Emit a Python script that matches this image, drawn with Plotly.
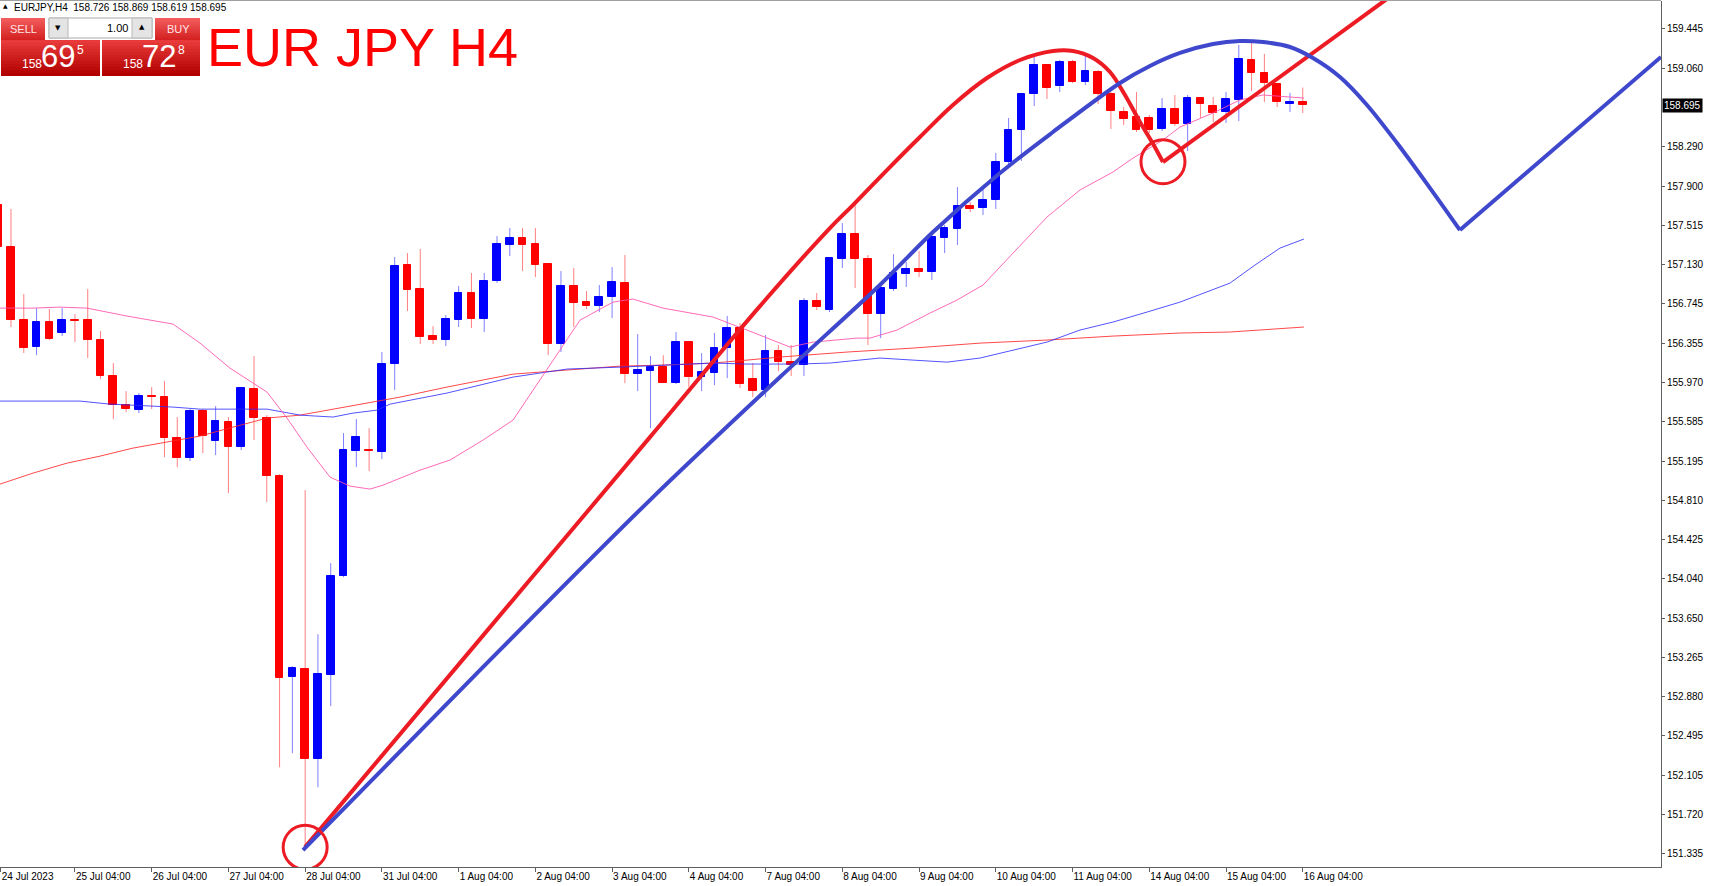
import plotly.graph_objects as go

# ------------------------------------------------------------------ data
first_bar = -1  # index of first (partly visible) H4 bar, 24 Jul 04:00
bar_open = [157.714, 157.301, 156.583, 156.318, 156.564, 156.456, 156.583, 156.583, 156.387, 156.033,
            155.748, 155.698, 155.836, 155.826, 155.423, 155.226, 155.689, 155.394, 155.580, 155.335,
            155.905, 155.620, 155.049, 153.073, 153.151, 152.267, 153.092, 154.066, 155.295, 155.305,
            155.285, 156.151, 157.124, 156.888, 156.426, 156.387, 156.583, 156.849, 156.593, 156.967,
            157.321, 157.390, 157.331, 157.134, 156.347, 156.918, 156.760, 156.721, 156.810, 156.947,
            156.052, 156.082, 156.121, 155.964, 156.367, 156.023, 156.062, 156.308, 156.505, 156.003,
            155.895, 156.279, 156.170, 156.141, 156.770, 156.682, 157.183, 157.429, 157.183, 156.642,
            156.888, 157.036, 157.085, 157.055, 157.390, 157.478, 157.704, 157.685, 157.763, 158.137,
            158.452, 158.806, 159.091, 158.884, 159.120, 158.924, 159.022, 158.806, 158.629, 158.580,
            158.570, 158.462, 158.658, 158.511, 158.766, 158.688, 158.629, 158.747, 159.140, 159.012,
            158.904, 158.707, 158.726]
bar_high = [157.734, 157.675, 156.839, 156.701, 156.692, 156.701, 156.642, 156.888, 156.475, 156.161,
            155.885, 155.866, 155.925, 155.984, 155.630, 155.708, 155.708, 155.738, 155.630, 155.925,
            156.229, 155.649, 155.069, 153.181, 154.912, 153.496, 154.194, 155.472, 155.610, 155.521,
            156.269, 157.203, 157.242, 157.282, 156.524, 156.633, 156.918, 157.046, 157.046, 157.409,
            157.488, 157.488, 157.488, 157.144, 157.065, 157.095, 156.869, 156.928, 157.105, 157.223,
            156.446, 156.229, 156.239, 156.465, 156.377, 156.259, 156.456, 156.623, 156.554, 156.161,
            156.436, 156.338, 156.338, 156.800, 156.849, 157.203, 157.537, 157.714, 157.223, 156.947,
            157.232, 157.154, 157.262, 157.439, 157.518, 157.891, 157.744, 157.881, 158.226, 158.570,
            158.816, 159.170, 159.101, 159.140, 159.140, 159.199, 159.042, 158.825, 158.678, 158.825,
            158.599, 158.766, 158.796, 158.796, 158.776, 158.776, 158.825, 159.288, 159.307, 159.199,
            158.914, 158.816, 158.869]
bar_low = [157.272, 156.515, 156.259, 156.239, 156.387, 156.426, 156.367, 156.210, 156.003, 155.610,
           155.679, 155.669, 155.708, 155.236, 155.138, 155.197, 155.276, 155.256, 154.882, 155.305,
           155.403, 154.794, 152.188, 152.326, 151.372, 151.991, 152.788, 154.056, 155.138, 155.099,
           155.217, 155.895, 156.672, 156.347, 156.347, 156.328, 156.515, 156.505, 156.465, 156.947,
           157.213, 157.065, 157.006, 156.239, 156.269, 156.515, 156.692, 156.662, 156.603, 155.964,
           155.885, 155.521, 155.964, 155.954, 155.925, 155.885, 155.944, 156.013, 155.915, 155.826,
           155.826, 156.082, 156.033, 156.033, 156.682, 156.662, 157.095, 156.898, 156.338, 156.406,
           156.869, 156.908, 157.006, 156.977, 157.242, 157.321, 157.645, 157.616, 157.675, 158.117,
           158.147, 158.688, 158.757, 158.825, 158.914, 158.894, 158.707, 158.462, 158.501, 158.432,
           158.422, 158.442, 158.491, 158.245, 158.570, 158.530, 158.521, 158.540, 158.835, 158.727,
           158.678, 158.629, 158.619]
bar_close = [157.301, 156.583, 156.308, 156.564, 156.397, 156.583, 156.573, 156.387, 156.033, 155.748,
             155.708, 155.836, 155.826, 155.423, 155.226, 155.689, 155.443, 155.590, 155.335, 155.915,
             155.620, 155.049, 153.063, 153.161, 152.267, 153.102, 154.066, 155.305, 155.433, 155.295,
             156.151, 157.114, 156.878, 156.416, 156.387, 156.593, 156.849, 156.593, 156.967, 157.331,
             157.390, 157.321, 157.124, 156.347, 156.918, 156.751, 156.721, 156.810, 156.957, 156.052,
             156.092, 156.121, 155.964, 156.367, 156.023, 156.072, 156.308, 156.505, 155.954, 155.885,
             156.279, 156.170, 156.141, 156.770, 156.711, 157.193, 157.429, 157.183, 156.642, 156.898,
             157.046, 157.085, 157.055, 157.400, 157.488, 157.704, 157.675, 157.763, 158.137, 158.452,
             158.806, 159.091, 158.865, 159.120, 158.924, 159.032, 158.806, 158.639, 158.560, 158.452,
             158.452, 158.658, 158.511, 158.766, 158.707, 158.619, 158.757, 159.150, 159.012, 158.914,
             158.727, 158.727, 158.695]

# time axis labels (bar index of each "04:00" bar)
time_tick_bars = [-0.8, 5, 11, 17, 23, 29, 35, 41, 47, 53, 59, 65, 71, 77, 83, 89, 95, 101]
time_tick_text = ["24 Jul 2023", "25 Jul 04:00", "26 Jul 04:00", "27 Jul 04:00", "28 Jul 04:00",
                  "31 Jul 04:00", "1 Aug 04:00", "2 Aug 04:00", "3 Aug 04:00", "4 Aug 04:00",
                  "7 Aug 04:00", "8 Aug 04:00", "9 Aug 04:00", "10 Aug 04:00", "11 Aug 04:00",
                  "14 Aug 04:00", "15 Aug 04:00", "16 Aug 04:00"]
price_ticks = [159.445, 159.060, 158.290, 157.900, 157.515, 157.130, 156.745, 156.355, 155.970,
               155.585, 155.195, 154.810, 154.425, 154.040, 153.650, 153.265, 152.880, 152.495,
               152.105, 151.720, 151.335]

# moving averages (read at selected bars)
ma_pink_x = [-0.86, 1.72, 3.83, 5.94, 9.07, 12.67, 14.78, 17.12, 20.02, 21.58, 23.14, 24.94, 26.51,
             28.07, 29.09, 31.98, 34.32, 36.90, 39.25, 42.38, 44.49, 47.07, 48.63, 50.98, 54.89, 57.55,
             60.91, 62.71, 66.15, 67.16, 69.27, 71.85, 73.96, 76.00, 78.34, 81.00, 83.58, 86.16, 87.73,
             90.07, 91.40, 93.98, 96.09, 97.89, 100.0, 101.09]
ma_pink_y = [156.701, 156.701, 156.711, 156.701, 156.623, 156.544, 156.357, 156.111, 155.875, 155.620,
             155.335, 155.040, 154.951, 154.922, 154.961, 155.108, 155.207, 155.403, 155.600, 156.190,
             156.583, 156.760, 156.790, 156.701, 156.613, 156.485, 156.318, 156.367, 156.406, 156.406,
             156.485, 156.652, 156.780, 156.928, 157.242, 157.596, 157.862, 158.039, 158.176, 158.353,
             158.481, 158.619, 158.747, 158.796, 158.776, 158.766]
ma_blue_x = [-0.86, 5.39, 7.74, 12.67, 14.78, 20.02, 22.60, 25.18, 26.74, 28.62, 29.63, 31.98, 34.09,
             39.25, 43.47, 47.62, 50.98, 54.89, 57.55, 61.46, 64.03, 67.94, 70.52, 73.18, 75.76, 78.34,
             81.00, 83.58, 86.16, 88.82, 91.40, 95.31, 97.26, 99.22, 101.09]
ma_blue_y = [155.787, 155.787, 155.757, 155.728, 155.708, 155.708, 155.649, 155.630, 155.669, 155.698,
             155.757, 155.816, 155.866, 156.023, 156.102, 156.121, 156.141, 156.161, 156.151, 156.151,
             156.161, 156.210, 156.190, 156.170, 156.210, 156.289, 156.367, 156.485, 156.564, 156.662,
             156.760, 156.947, 157.124, 157.291, 157.380]
ma_red_x = [-0.86, 1.72, 4.38, 6.96, 9.54, 12.20, 14.78, 17.36, 20.02, 22.60, 25.18, 27.83, 30.41,
            34.09, 39.25, 43.47, 47.62, 50.98, 54.89, 57.55, 60.13, 65.36, 70.52, 75.76, 81.00, 86.16,
            91.40, 95.31, 101.09]
ma_red_y = [154.971, 155.079, 155.177, 155.246, 155.325, 155.384, 155.443, 155.531, 155.620, 155.649,
            155.708, 155.767, 155.826, 155.925, 156.052, 156.092, 156.131, 156.141, 156.161, 156.190,
            156.220, 156.269, 156.308, 156.357, 156.387, 156.426, 156.456, 156.466, 156.515]

# hand-drawn analysis objects (anchor points in bar index / price)
red_path_x = [22.99, 36.67, 49.96, 58.56, 64.03, 65.83, 68.49, 71.07, 73.65, 76.31, 78.89, 81.47,
              83.03, 84.60, 85.93, 87.10, 88.27, 89.21, 90.07]
red_path_y = [151.402, 153.447, 155.433, 156.721, 157.488, 157.714, 158.058, 158.383, 158.698, 158.963,
              159.140, 159.229, 159.229, 159.160, 159.022, 158.796, 158.530, 158.334, 158.137]
red_ray_x = [90.07, 110.16]
red_ray_y = [158.137, 159.976]
blue_arc_x = [22.83, 36.67, 49.96, 60.13, 67.94, 72.09, 77.33, 81.47, 86.71, 89.05, 91.40, 93.98,
              96.09, 97.89, 100.0, 101.80, 103.91, 106.02, 108.37, 110.95, 113.29]
blue_arc_y = [151.372, 153.142, 154.814, 156.023, 156.928, 157.449, 158.029, 158.432, 158.914, 159.081,
              159.209, 159.297, 159.327, 159.317, 159.268, 159.160, 158.973, 158.698, 158.324, 157.881,
              157.468]
blue_ray_x = [113.29, 129.01]
blue_ray_y = [157.468, 159.170]
circle_x = [23.0, 90.07]
circle_y = [151.40, 158.14]

symbol = "EURJPY,H4"
ohlc_last = [158.726, 158.869, 158.619, 158.695]
bid_price = "158.695"
ask_price = "158.728"
lot = "1.00"
title_text = "EUR JPY H4"

# ------------------------------------------------------------------ styling
W, H = 1709, 886
PL, PR, PT, PB = 0, 48, 1, 19
PW, PH = W - PL - PR, H - PT - PB
FONT = "Tahoma, Liberation Sans, Arial, sans-serif"
C_RED_DRAW = "rgb(237,28,36)"
C_BLUE_DRAW = "rgb(63,72,204)"


def px(x):
    return (x - PL) / PW


def py(y):
    return 1 - (y - PT) / PH


bars = list(range(first_bar, first_bar + len(bar_open)))

fig = go.Figure()

# wicks
for bull, col in ((True, "rgba(0,0,255,0.5)"), (False, "rgba(255,0,0,0.5)")):
    wx, wy = [], []
    for i, o, h, l, c in zip(bars, bar_open, bar_high, bar_low, bar_close):
        if (c >= o) == bull:
            wx += [i, i, None]
            wy += [l, h, None]
    fig.add_trace(go.Scatter(x=wx, y=wy, mode="lines", line=dict(color=col, width=1),
                             hoverinfo="skip"))

# bodies
for bull, col in ((True, "#0000ff"), (False, "#ff0000")):
    bx, bb, bh = [], [], []
    for i, o, c in zip(bars, bar_open, bar_close):
        if (c >= o) == bull:
            bx.append(i)
            bb.append(min(o, c))
            bh.append(abs(c - o))
    fig.add_trace(go.Bar(x=bx, y=bh, base=bb, width=0.6, marker=dict(color=col,
                         line=dict(color=col, width=1)), hoverinfo="skip"))

# moving averages
fig.add_trace(go.Scatter(x=ma_red_x, y=ma_red_y, mode="lines",
                         line=dict(color="rgba(255,40,40,0.85)", width=1), hoverinfo="skip"))
fig.add_trace(go.Scatter(x=ma_blue_x, y=ma_blue_y, mode="lines",
                         line=dict(color="rgba(40,40,255,0.8)", width=1), hoverinfo="skip"))
fig.add_trace(go.Scatter(x=ma_pink_x, y=ma_pink_y, mode="lines",
                         line=dict(color="rgba(255,80,170,0.85)", width=1), hoverinfo="skip"))

# drawn objects
fig.add_trace(go.Scatter(x=red_path_x, y=red_path_y, mode="lines",
                         line=dict(color=C_RED_DRAW, width=4, shape="spline", smoothing=1.0),
                         hoverinfo="skip"))
fig.add_trace(go.Scatter(x=red_ray_x, y=red_ray_y, mode="lines",
                         line=dict(color=C_RED_DRAW, width=4), hoverinfo="skip"))
fig.add_trace(go.Scatter(x=blue_arc_x, y=blue_arc_y, mode="lines",
                         line=dict(color=C_BLUE_DRAW, width=4, shape="spline", smoothing=0.9),
                         hoverinfo="skip"))
fig.add_trace(go.Scatter(x=blue_ray_x, y=blue_ray_y, mode="lines",
                         line=dict(color=C_BLUE_DRAW, width=4), hoverinfo="skip"))

shapes = []
for cx, cy in zip(circle_x, circle_y):
    shapes.append(dict(type="circle", xref="x", yref="y", xsizemode="pixel", ysizemode="pixel",
                       xanchor=cx, yanchor=cy, x0=-22, x1=22, y0=-22, y1=22,
                       line=dict(color=C_RED_DRAW, width=3), layer="above"))

# top frame line
shapes.append(dict(type="line", xref="paper", yref="paper", x0=0, x1=1, y0=py(0.5), y1=py(0.5),
                   line=dict(color="#a0a0a0", width=1)))


def grad_rect(x0, y0, x1, y1, top, bot, n=12):
    # nested strips (each reaches the bottom) so no seams show
    for k in range(n):
        t = k / (n - 1)
        col = "rgb(%d,%d,%d)" % tuple(round(a + (b - a) * t) for a, b in zip(top, bot))
        ya = y0 + (y1 - y0) * k / n
        shapes.append(dict(type="rect", xref="paper", yref="paper", x0=px(x0), x1=px(x1),
                           y0=py(ya), y1=py(y1), line=dict(width=0), fillcolor=col, layer="above"))


# trade panel
grad_rect(1, 18, 45, 40, (242, 92, 92), (212, 34, 34))
grad_rect(155, 18, 200, 40, (242, 92, 92), (212, 34, 34))
grad_rect(1, 40, 100, 76, (232, 58, 58), (178, 0, 0))
grad_rect(102, 40, 200, 76, (232, 58, 58), (178, 0, 0))
shapes.append(dict(type="rect", xref="paper", yref="paper", x0=px(49), x1=px(152), y0=py(18),
                   y1=py(38), line=dict(color="#a8a8a8", width=1), fillcolor="#ffffff", layer="above"))
for a, b in ((49, 68), (132, 152)):
    shapes.append(dict(type="rect", xref="paper", yref="paper", x0=px(a), x1=px(b), y0=py(18),
                       y1=py(38), line=dict(color="#b8b8b8", width=1), fillcolor="#e4e4e4",
                       layer="above"))

ann = []


def txt(x, y, s, size, color, xanchor="center", family=FONT):
    ann.append(dict(xref="paper", yref="paper", x=px(x), y=py(y), text=s, showarrow=False,
                    xanchor=xanchor, yanchor="middle", font=dict(size=size, color=color,
                                                                 family=family)))


txt(5, 6, "▲", 6, "#000000", family="DejaVu Sans")
txt(12, 7.5, symbol + "  " + " ".join("%.3f" % v for v in ohlc_last), 10, "#000000", "left")
txt(23, 29, "SELL", 11, "#ffe4e4")
txt(178, 29, "BUY", 11, "#ffe4e4")
txt(130, 28, lot, 11, "#000000", "right")
txt(58.5, 28, "▼", 7, "#000000", family="DejaVu Sans")
txt(142, 27, "▲", 7, "#000000", family="DejaVu Sans")
for bx0, price in ((0, bid_price), (101, ask_price)):
    big, mid, small = price[:3], price[4:6], price[6]
    txt(bx0 + 31.5, 64, big, 12, "#ffffff")
    txt(bx0 + 57.5, 56, mid, 31, "#ffffff")
    txt(bx0 + 80.5, 50, small, 12, "#ffffff")
txt(362, 47, title_text, 54, "#ff0000", family="Liberation Sans, Arial, sans-serif")

# current price tag on axis
ann.append(dict(xref="paper", yref="y", x=1, y=ohlc_last[3], text=bid_price, showarrow=False,
                xanchor="left", yanchor="middle", xshift=1, bgcolor="#000000", borderpad=1,
                font=dict(size=10, color="#ffffff", family=FONT)))

fig.update_layout(
    width=W, height=H, autosize=False,
    margin=dict(l=PL, r=PR, t=PT, b=PB, pad=0),
    paper_bgcolor="#ffffff", plot_bgcolor="#ffffff",
    showlegend=False, barmode="overlay", bargap=0,
    shapes=shapes, annotations=ann,
    font=dict(family=FONT, size=10, color="#000000"),
    xaxis=dict(range=[-0.86, 129.01], showgrid=False, zeroline=False, showline=True,
               linecolor="#606060", linewidth=1, ticks="outside", ticklen=4, tickcolor="#606060",
               tickvals=time_tick_bars, ticktext=time_tick_text, ticklabelposition="outside right",
               tickfont=dict(size=10, color="#000000", family=FONT), fixedrange=True,
               automargin=False),
    yaxis=dict(range=[151.207, 159.720], side="right", showgrid=False, zeroline=False,
               showline=True, linecolor="#606060", linewidth=1, ticks="outside", ticklen=3,
               tickcolor="#606060", tickvals=price_ticks, ticktext=["%.3f" % v for v in price_ticks],
               tickfont=dict(size=10, color="#000000", family=FONT), fixedrange=True,
               automargin=False),
)

fig.write_html(
    "out.html",
    config={"displayModeBar": False},
    post_script="document.body.style.margin='0';document.body.style.padding='0';"
                "document.body.style.overflow='hidden';",
)
